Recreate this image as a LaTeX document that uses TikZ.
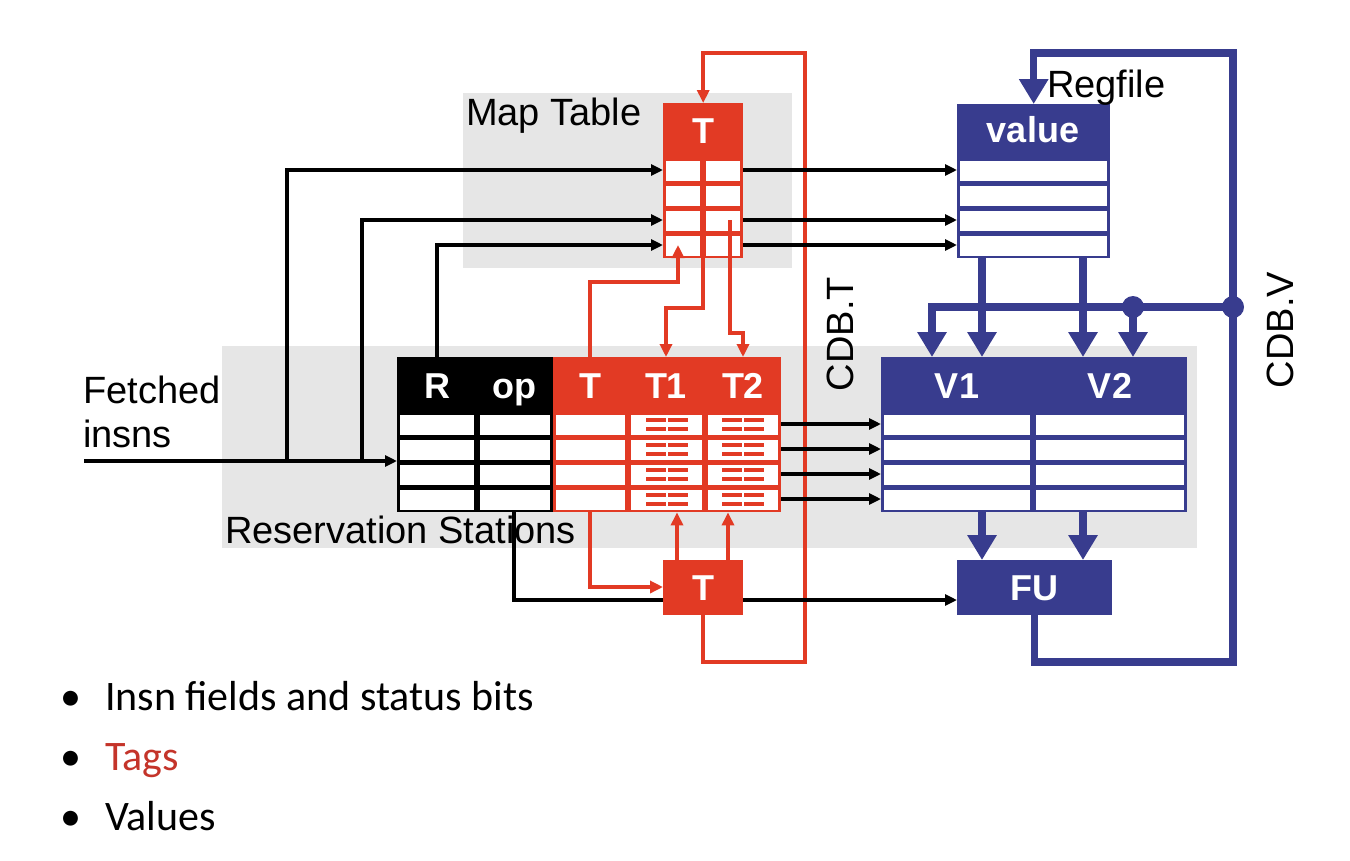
\documentclass[tikz,border=0pt]{standalone}
\usepackage{fontspec}
\setmainfont{Liberation Sans}
\newfontfamily\bulletfont{Carlito}
\usetikzlibrary{arrows.meta,positioning}

\definecolor{tagred}{RGB}{226,58,36}
\definecolor{valblue}{RGB}{56,60,142}
\definecolor{boxgray}{RGB}{230,230,230}
\definecolor{bulletred}{RGB}{196,52,42}

\pgfdeclarelayer{back}
\pgfdeclarelayer{mid}
\pgfsetlayers{back,mid,main}

\tikzset{
  blk/.style={rectangle, inner sep=0pt, anchor=north west},
  hdr/.style={text=white, inner sep=0pt, anchor=base, font=\fontsize{36}{36}\selectfont\bfseries},
  lbl/.style={inner sep=0pt, font=\fontsize{38}{40}\selectfont},
  blkline/.style={line width=3.5pt, -{Triangle[length=12pt,width=11pt]}},
  redline/.style={draw=tagred, line width=3.5pt},
  redarr/.style={redline, -{Triangle[length=13pt,width=12pt]}},
  tagbar/.style={draw=tagred, line width=4pt},
  bluebus/.style={draw=valblue, line width=7.5pt},
  bluearr/.style={bluebus, -{Triangle[length=25pt,width=28pt]}},
  bullet/.style={inner sep=0pt, anchor=base west, font=\bulletfont\fontsize{42}{42}\selectfont},
}

\begin{document}
\begin{tikzpicture}[x=1pt,y=-1pt]
  \useasboundingbox (0,0) rectangle (1350,860);

  % blocks
  \node[blk, fill=tagred, minimum width=80pt, minimum height=155pt] (maptab) at (663,103) {};
  \node[blk, fill=valblue, minimum width=153pt, minimum height=154pt] (regfile) at (957,104) {};
  \node[blk, fill=black, minimum width=156pt, minimum height=155pt] (rsinsn) at (397,357) {};
  \node[blk, fill=tagred, minimum width=228pt, minimum height=155pt] (rstag) at (553,357) {};
  \node[blk, fill=valblue, minimum width=306pt, minimum height=155pt] (rsval) at (881,357) {};

  % cells
  \foreach \y in {158,183,208,233} {
    \foreach \xa/\xb in {663/703,703/743}
      \fill[white] (\xa+3,\y+2.5) rectangle (\xb-3,\y+22.5);
    \fill[white] (957+3,\y+2.5) rectangle (1110-3,\y+22.5);
  }
  \foreach \y in {412,437,462,487} {
    \foreach \xa/\xb in {397/477,477/553,553/628,628/705,705/781,881/1033,1033/1187}
      \fill[white] (\xa+3,\y+2.5) rectangle (\xb-3,\y+22.5);
    \foreach \cx in {667,743} {
      \draw[tagbar] (\cx-21,\y+7.5) -- (\cx-1,\y+7.5);
      \draw[tagbar] (\cx+1,\y+7.5) -- (\cx+21,\y+7.5);
      \draw[tagbar] (\cx-21,\y+17) -- (\cx-1,\y+17);
      \draw[tagbar] (\cx+1,\y+17) -- (\cx+21,\y+17);
    }
  }

  % row levels and corners
  \foreach \i/\y in {1/170,2/195,3/220,4/245} \coordinate (mt\i) at (703,\y);
  \foreach \i/\y in {1/424,2/449,3/474,4/499} \coordinate (rs\i) at (0,\y);
  \coordinate (fetch) at (84,461);
  \coordinate (tapA) at (287,461);
  \coordinate (tapB) at (362,461);
  \coordinate (cdbTlo) at (805,662);
  \coordinate (cdbThi) at (805,53);
  \coordinate (cdbVlo) at (1233,662);
  \coordinate (cdbVhi) at (1233,53);
  \coordinate (busL) at (932,307);
  \coordinate (busdot) at (1133,307);
  \coordinate (vB) at (982,0);
  \coordinate (vC) at (1083,0);
  \coordinate (mtin) at (678,282);
  \coordinate (jogA) at (703,308);
  \coordinate (jogB) at (730,333);
  \coordinate (upA) at (677,0);
  \coordinate (upB) at (728,0);

  % header labels
  \node[hdr] (hR) at (437,398) {R};
  \node[hdr] (hop) at (514,398) {op};
  \node[hdr] (hT) at (590,398) {T};
  \node[hdr] (hTa) at (666,398) {T1};
  \node[hdr] (hTb) at (743,398) {T2};
  \node[hdr] (hV1) at (957,398) {V1};
  \node[hdr] (hV2) at (1110,398) {V2};
  \node[hdr] (hmap) at (703,143) {T};
  \node[hdr] (hval) at (1033,142) {value};

  % gray regions
  \begin{pgfonlayer}{back}
    \fill[boxgray] (463,93) rectangle (792,268);
    \fill[boxgray] (222,346) rectangle (1197,548);
  \end{pgfonlayer}

  \begin{pgfonlayer}{mid}
    % CDB.T loop
    \draw[redarr] (703,615) |- (cdbTlo) -- (cdbThi) -| (maptab.north);
    % black connectors
    \draw[blkline] (fetch) -- (fetch -| rsinsn.west);
    \draw[blkline] (tapA) |- (maptab.west |- mt1);
    \draw[blkline] (tapB) |- (maptab.west |- mt3);
    \draw[blkline] (hR.center |- rsinsn.north) |- (maptab.west |- mt4);
    \foreach \i in {1,3,4}
      \draw[blkline] (maptab.east |- mt\i) -- (regfile.west |- mt\i);
    \foreach \i in {1,...,4}
      \draw[blkline] (rstag.east |- rs\i) -- (rsval.west |- rs\i);
    \draw[blkline] (hop.center |- rsinsn.south) |- (957,600);
  \end{pgfonlayer}

  % tag connectors
  \draw[redarr] (hT.center |- rstag.north) |- (mtin) -- (mtin |- mt4);
  \draw[redarr] (mt1) -- (jogA) -| (hTa.center |- rstag.north);
  \draw[redarr] (jogB |- mt3) -- (jogB) -| (hTb.center |- rstag.north);
  \draw[redarr] (hT.center |- rstag.south) |- (663,587);
  \draw[redarr] (upA |- 0,560) -- (upA |- rstag.south);
  \draw[redarr] (upB |- 0,560) -- (upB |- rstag.south);

  % tag out and FU
  \node[blk, fill=tagred, minimum width=80pt, minimum height=55pt] (tagout) at (663,560) {};
  \node[hdr] at (703,600) {T};
  \node[blk, fill=valblue, minimum width=155pt, minimum height=55pt] (fu) at (957,560) {};
  \node[hdr] at (1034,600) {FU};

  % CDB.V bus
  \draw[bluearr] (fu.south) |- (cdbVlo) -- (cdbVhi) -| (regfile.north);
  \draw[bluearr] (cdbVlo |- busL) -- (busL) -- (busL |- rsval.north);
  \draw[bluearr] (busdot) -- (busdot |- rsval.north);
  \fill[valblue] (busdot) circle (11);
  \fill[valblue] (cdbVlo |- busL) circle (11);
  \draw[bluearr] (vB |- regfile.south) -- (vB |- rsval.north);
  \draw[bluearr] (vC |- regfile.south) -- (vC |- rsval.north);
  \draw[bluearr] (vB |- rsval.south) -- (vB |- fu.north);
  \draw[bluearr] (vC |- rsval.south) -- (vC |- fu.north);

  % labels
  \node[lbl, anchor=base west] (mtlbl) at (466,125) {Map Table};
  \node[lbl, anchor=base west] (reglbl) at (1047,97) {Regfile};
  \node[lbl, anchor=base west] (fetchlbl) at (83,403) {Fetched};
  \node[lbl, anchor=base west] (insnlbl) at (83,447) {insns};
  \node[lbl, anchor=base west] (rslbl) at (225,543) {Reservation Stations};
  \node[lbl, rotate=90] (cdbtlbl) at (840,334) {CDB.T};
  \node[lbl, rotate=90] (cdbvlbl) at (1280,330) {CDB.V};

  % bullets
  \node[bullet] (b1) at (60,710) {•\hspace{24pt}Insn fields and status bits};
  \node[bullet] (b2) at (60,770) {•\hspace{24pt}\textcolor{bulletred}{Tags}};
  \node[bullet] (b3) at (60,830) {•\hspace{24pt}Values};
\end{tikzpicture}
\end{document}
